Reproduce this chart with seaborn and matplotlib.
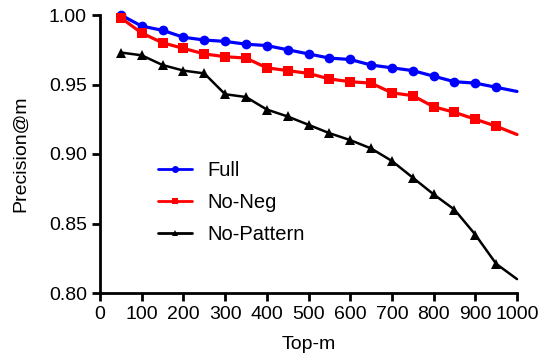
import matplotlib
matplotlib.use("Agg")
import matplotlib.pyplot as plt
import seaborn as sns
import pandas as pd

top_m = [50, 100, 150, 200, 250, 300, 350, 400, 450, 500,
         550, 600, 650, 700, 750, 800, 850, 900, 950, 1000]
full = [1.000, 0.992, 0.989, 0.984, 0.982, 0.981, 0.979, 0.978, 0.975, 0.972,
        0.969, 0.968, 0.964, 0.962, 0.960, 0.956, 0.952, 0.951, 0.948, 0.945]
no_neg = [0.998, 0.987, 0.980, 0.976, 0.972, 0.970, 0.969, 0.962, 0.960, 0.958,
          0.954, 0.952, 0.951, 0.944, 0.942, 0.934, 0.930, 0.925, 0.920, 0.914]
no_pattern = [0.973, 0.971, 0.964, 0.960, 0.958, 0.943, 0.941, 0.932, 0.927, 0.921,
              0.915, 0.910, 0.904, 0.895, 0.883, 0.871, 0.860, 0.842, 0.821, 0.810]
series_names = ["Full", "No-Neg", "No-Pattern"]
x_ticks = [0, 100, 200, 300, 400, 500, 600, 700, 800, 900, 1000]
y_ticks = [0.80, 0.85, 0.90, 0.95, 1.00]

df = pd.DataFrame({
    "Top-m": top_m * 3,
    "Precision@m": full + no_neg + no_pattern,
    "Method": [series_names[0]] * len(top_m) + [series_names[1]] * len(top_m) + [series_names[2]] * len(top_m),
})

sns.set_style("ticks")
plt.rcParams["font.family"] = ["Liberation Sans", "DejaVu Sans"]
plt.rcParams["text.color"] = "black"
plt.rcParams["axes.labelcolor"] = "black"
plt.rcParams["xtick.color"] = "black"
plt.rcParams["ytick.color"] = "black"

fig = plt.figure(figsize=(5.45, 3.56), dpi=100)
ax = fig.add_axes([100 / 545, 1 - 293 / 356, 417 / 545, 278 / 356])

palette = {"Full": "#0000FF", "No-Neg": "#FF0000", "No-Pattern": "#000000"}
markers = {"Full": "o", "No-Neg": "s", "No-Pattern": "^"}
sns.lineplot(data=df, x="Top-m", y="Precision@m", hue="Method", style="Method",
             palette=palette, markers=markers, dashes=False, ax=ax,
             markersize=7, markeredgewidth=0, legend=True)

sizes = {"Full": (2.3, 7), "No-Neg": (2.3, 7.5), "No-Pattern": (1.8, 7)}
for line, name in zip(ax.get_lines()[:3], series_names):
    line.set_linewidth(sizes[name][0])
    line.set_markersize(sizes[name][1])
    line.set_markevery(slice(0, len(top_m) - 1))
    line.set_clip_on(False)

ax.set_xlim(0, 1000)
ax.set_ylim(0.80, 1.00)
ax.set_xticks(x_ticks)
ax.set_yticks(y_ticks)
ax.set_yticklabels([f"{v:.2f}" for v in y_ticks])
ax.set_xlabel("Top-m", fontsize=14, color="black", labelpad=9)
ax.set_ylabel("Precision@m", fontsize=14, color="black", labelpad=14)
ax.tick_params(axis="both", labelsize=14, width=2, length=6, direction="out",
               color="black", labelcolor="black")
for s in ["left", "bottom"]:
    ax.spines[s].set_linewidth(2)
    ax.spines[s].set_color("black")
sns.despine(ax=ax)

handles, labels = ax.get_legend_handles_labels()
for h in handles:
    h.set_markersize(5)
    h.set_linewidth(2)
leg = ax.legend(handles, labels, loc="upper left", bbox_to_anchor=(0.14, 0.475),
                frameon=False, fontsize=14.5, handlelength=1.65, handletextpad=0.8,
                labelspacing=0.65, borderaxespad=0, borderpad=0)

fig.savefig("out.png", dpi=100)
